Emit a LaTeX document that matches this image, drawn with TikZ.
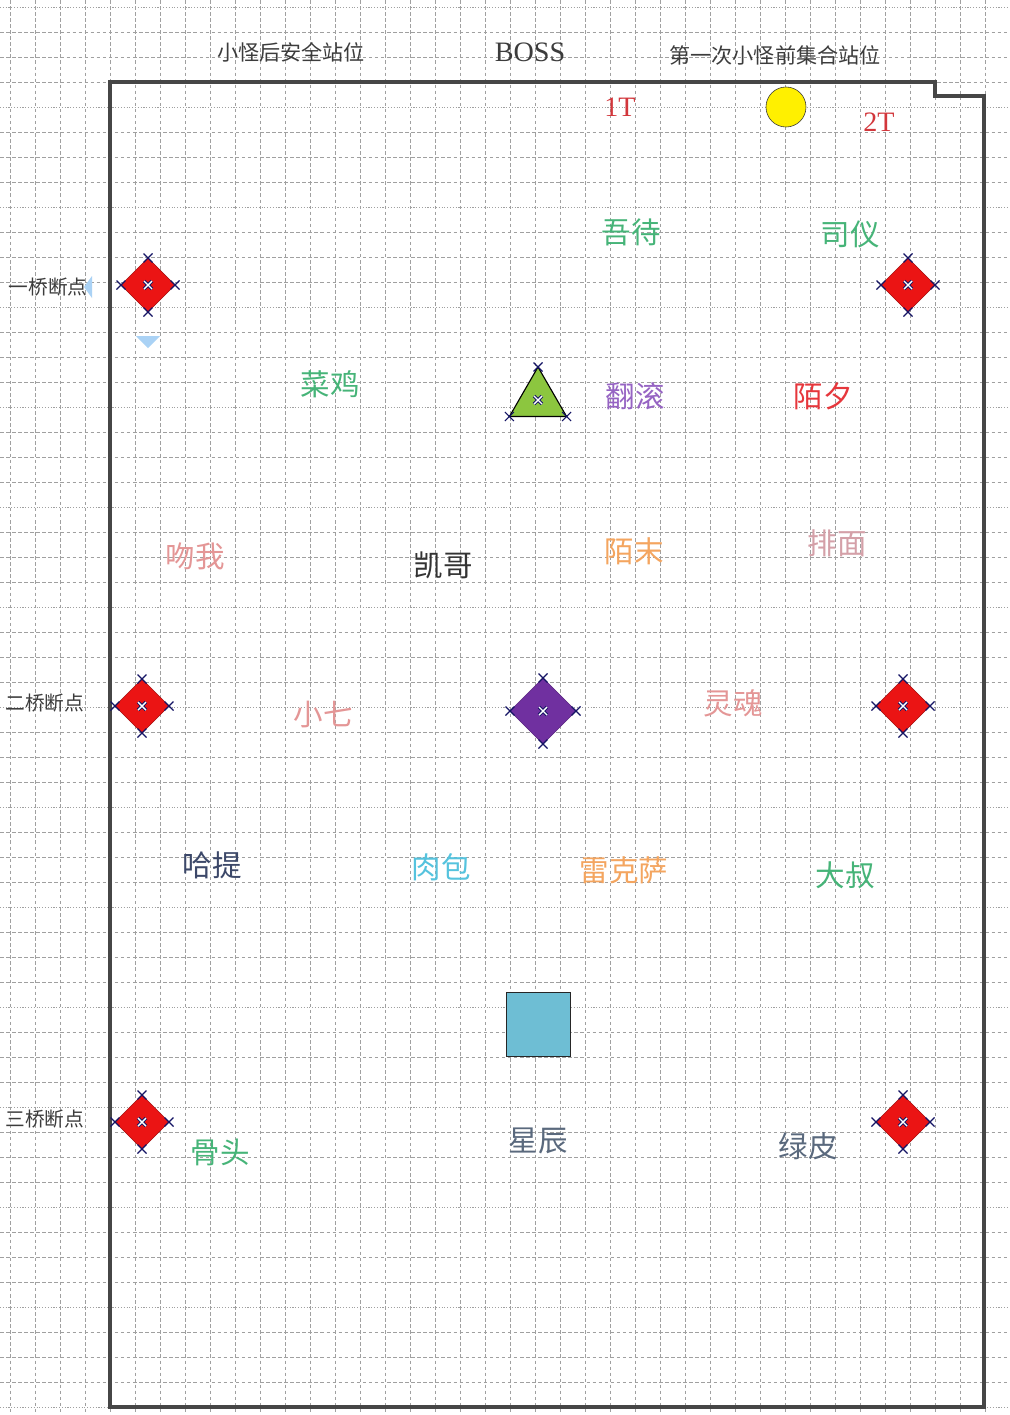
\documentclass[tikz,border=0pt]{standalone}
\usepackage{fontspec}
\usepackage{xcolor}
\usepackage{tikz}
\usetikzlibrary{shapes.geometric, positioning}
\newfontfamily\cjk{Noto Sans CJK SC}
\newfontfamily\latinserif{Liberation Serif}
\definecolor{gridGrey}{RGB}{160, 160, 160}
\definecolor{wallGrey}{RGB}{70, 70, 70}
\definecolor{textGrey}{RGB}{60, 60, 60}
\definecolor{tankRed}{RGB}{210, 55, 60}
\definecolor{markRed}{RGB}{235, 20, 20}
\definecolor{handleBlue}{RGB}{20, 20, 100}
\definecolor{healGreen}{RGB}{70, 180, 120}
\definecolor{rollPurple}{RGB}{150, 100, 195}
\definecolor{duskRed}{RGB}{230, 55, 60}
\definecolor{rosePink}{RGB}{228, 150, 150}
\definecolor{mauvePink}{RGB}{212, 160, 168}
\definecolor{amberOrange}{RGB}{244, 165, 95}
\definecolor{slateBlue}{RGB}{60, 72, 105}
\definecolor{slateGrey}{RGB}{90, 105, 125}
\definecolor{skyCyan}{RGB}{85, 195, 222}
\definecolor{limeGreen}{RGB}{140, 198, 63}
\definecolor{deepPurple}{RGB}{112, 48, 160}
\definecolor{boxBlue}{RGB}{110, 190, 212}
\definecolor{sunYellow}{RGB}{255, 240, 0}
\definecolor{hintBlue}{RGB}{170, 210, 245}
\tikzset{
  gridline/.style={
    draw=gridGrey, line width=0.55pt,
    dash pattern=on 2.5pt off 1.8pt
  },
  gridfine/.style={
    draw=gridGrey, line width=0.55pt,
    dash pattern=on 0.8pt off 1.2pt
  },
  wall/.style={
    draw=wallGrey, line width=2.2pt
  },
  toplabel/.style={
    font=\cjk\fontsize{15}{15}\selectfont,
    text=textGrey, inner sep=0pt
  },
  sidelabel/.style={
    font=\cjk\fontsize{14}{14}\selectfont,
    text=textGrey, inner sep=0pt
  },
  tanklabel/.style={
    font=\latinserif\fontsize{20}{20}\selectfont,
    text=tankRed, inner sep=0pt
  },
  player/.style={
    font=\cjk\fontsize{21}{21}\selectfont,
    inner sep=0pt
  },
  marker/.style={
    diamond, aspect=1,
    draw=markRed!70!black, fill=markRed,
    minimum width=1.35cm, minimum height=1.35cm,
    inner sep=0pt, outer sep=0pt
  },
  handle/.style={
    draw=handleBlue, line width=0.8pt
  }
}
% selection handles on the corners and in the middle of a shape
\newcommand{\cornerx}[1]{%
  \draw[handle] (#1) +(-4.5,-4.5) -- +(4.5,4.5) +(-4.5,4.5) -- +(4.5,-4.5);}
\newcommand{\centrex}[1]{%
  \draw[handleBlue, line width=2.4pt] (#1) +(-4,-4) -- +(4,4) +(-4,4) -- +(4,-4);
  \draw[white, line width=1pt] (#1) +(-4,-4) -- +(4,4) +(-4,4) -- +(4,-4);}
\newcommand{\handles}[1]{%
  \foreach \a in {north,south,east,west} {\cornerx{#1.\a}}
  \centrex{#1.center}}

\begin{document}
\begin{tikzpicture}[x=0.025cm, y=-0.025cm]

  \useasboundingbox (0,0) rectangle (1009,1415);
  \fill[white] (0,0) rectangle (1009,1415);

  % grid
  \foreach \x in {10,35,...,1010}
    \draw[gridline] (\x,0) -- (\x,1415);
  \foreach \y in {32,57,82,132,157,182,232,257,282,332,357,382,432,457,482,
                  532,557,582,632,657,682,732,757,782,832,857,882,932,957,982,
                  1032,1057,1082,1132,1157,1182,1232,1257,1282,1332,1357,1382}
    \draw[gridline] (0,\y) -- (1009,\y);
  \foreach \y in {7,107,...,1407}
    \draw[gridfine] (0,\y) -- (1009,\y);

  % room outline
  \draw[wall] (110,82) -- (935,82) -- (935,96) -- (984,96)
              -- (984,1407) -- (110,1407) -- cycle;

  % top labels
  \node[toplabel] (safe)   at (291,52)  {小怪后安全站位};
  \node[tanklabel, text=textGrey] (boss) at (530,52) {BOSS};
  \node[toplabel] (gather) at (775,55)  {第一次小怪前集合站位};

  \node[tanklabel] (mt) at (620,107) {1T};
  \node[tanklabel] (ot) at (879,122) {2T};
  \node[circle, draw=black!80, fill=sunYellow, minimum size=1cm,
        inner sep=0pt] (bossdot) at (786,107) {};

  % break points
  \node[sidelabel] (bridge1) at (48,287)  {一桥断点};
  \node[sidelabel] (bridge2) at (45,703)  {二桥断点};
  \node[sidelabel] (bridge3) at (45,1119) {三桥断点};

  \fill[hintBlue] (84,287) -- (92,276) -- (92,298) -- cycle;
  \fill[hintBlue] (136,336) -- (160,336) -- (148,348) -- cycle;

  \node[marker] (ml1) at (148,285)  {};
  \node[marker] (mr1) at (908,285)  {};
  \node[marker] (ml2) at (142,706)  {};
  \node[marker] (mr2) at (903,706)  {};
  \node[marker] (ml3) at (142,1122) {};
  \node[marker] (mr3) at (903,1122) {};
  \handles{ml1} \handles{mr1}
  \handles{ml2} \handles{mr2}
  \handles{ml3} \handles{mr3}

  % centre marks
  \node[regular polygon, regular polygon sides=3, draw=black,
        line width=0.8pt, fill=limeGreen, minimum size=1.65cm,
        inner sep=0pt, outer sep=0pt] (tri) at (538,400) {};
  \foreach \c in {1,2,3} {\cornerx{tri.corner \c}}
  \centrex{tri.center}

  \node[diamond, aspect=1, draw=deepPurple!80!black, fill=deepPurple,
        minimum width=1.65cm, minimum height=1.65cm,
        inner sep=0pt, outer sep=0pt] (mid) at (543,711) {};
  \handles{mid}

  \node[rectangle, draw=black!85, line width=1.1pt, fill=boxBlue,
        minimum size=1.6cm, inner sep=0pt] (box) at (538.5,1024.5) {};

  % players
  \node[player, text=healGreen]   (wudai)   at (631,232)  {吾待};
  \node[player, text=healGreen]   (siyi)    at (850,234)  {司仪};
  \node[player, text=healGreen]   (caiji)   at (330,384)  {菜鸡};
  \node[player, text=rollPurple]  (fangun)  at (635,396)  {翻滚};
  \node[player, text=duskRed]     (moxi)    at (823,396)  {陌夕};
  \node[player, text=rosePink]    (wenwo)   at (195,556)  {吻我};
  \node[player, text=black!80]    (kaige)   at (443,565)  {凯哥};
  \node[player, text=amberOrange] (momo)    at (634,551)  {陌末};
  \node[player, text=mauvePink]   (paimian) at (837,543)  {排面};
  \node[player, text=rosePink]    (xiaoqi)  at (323,714)  {小七};
  \node[player, text=rosePink]    (linghun) at (733,703)  {灵魂};
  \node[player, text=slateBlue]   (hati)    at (212,865)  {哈提};
  \node[player, text=skyCyan]     (roubao)  at (441,867)  {肉包};
  \node[player, text=amberOrange] (leiksa)  at (624,870)  {雷克萨};
  \node[player, text=healGreen]   (dashu)   at (845,875)  {大叔};
  \node[player, text=healGreen]   (gutou)   at (220,1152) {骨头};
  \node[player, text=slateGrey]   (xingchen) at (538,1141) {星辰};
  \node[player, text=slateGrey]   (lvpi)    at (808,1146) {绿皮};

\end{tikzpicture}
\end{document}
